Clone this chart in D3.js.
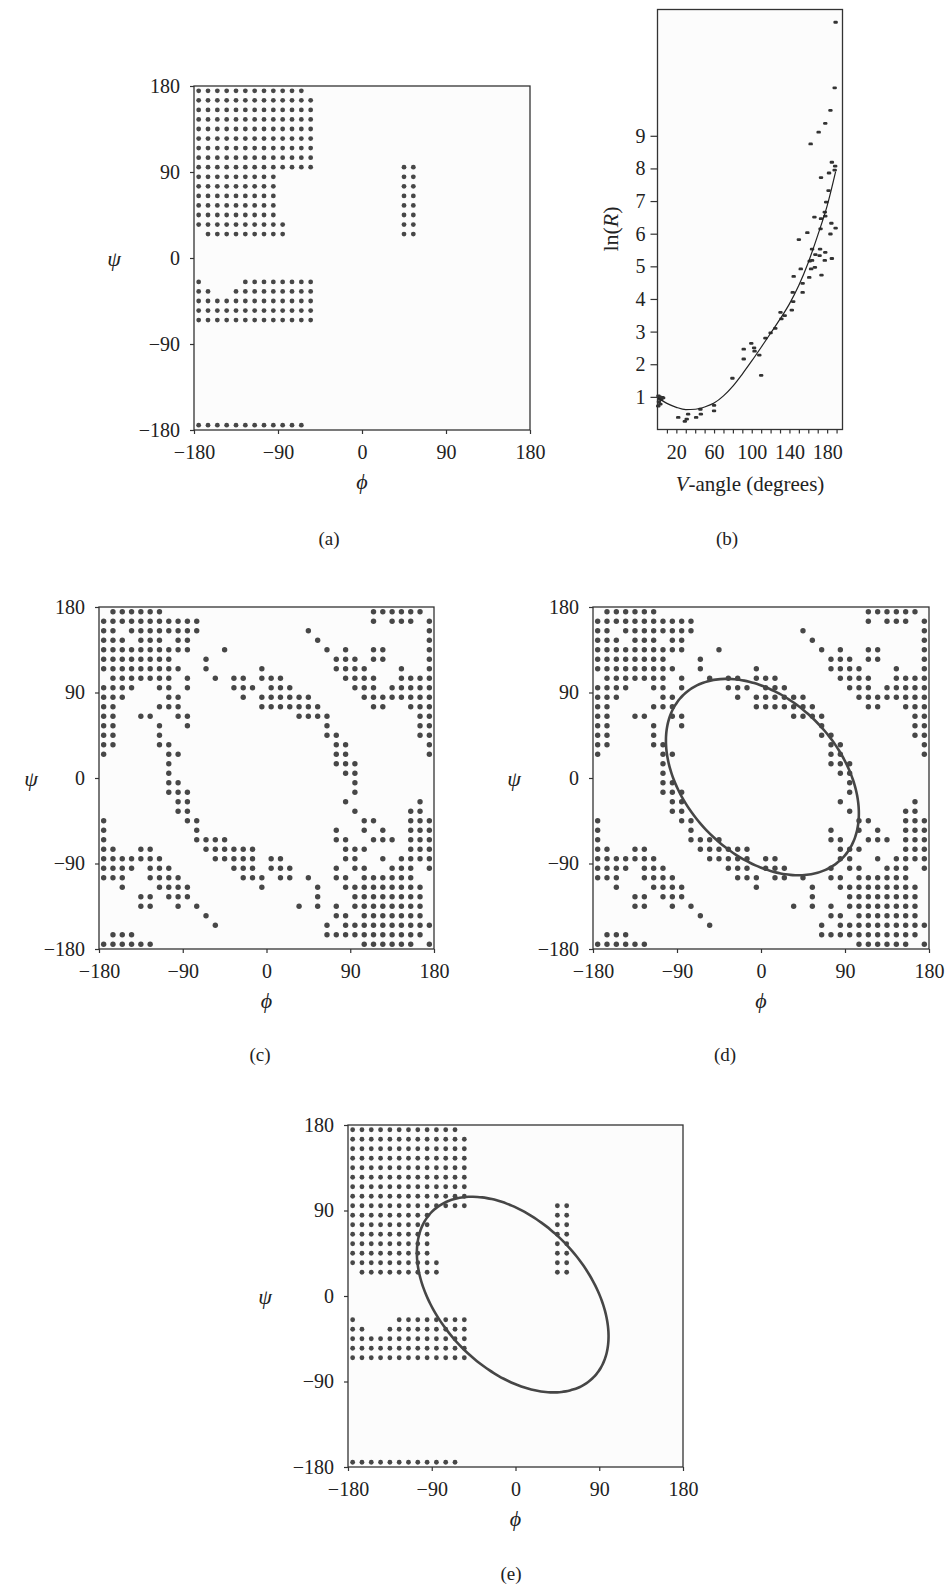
<!DOCTYPE html>
<html>
<head>
<meta charset="utf-8">
<script src="https://cdn.jsdelivr.net/npm/d3@7"></script>
<style>
body { margin: 0; background: #fff; }
svg text { font-family: "Liberation Serif", "Times New Roman", serif; fill: #222; }
</style>
</head>
<body>
<svg id="fig" width="948" height="1587"></svg>
<script>
// Ramachandran grids: one entry per psi row (175 down to -175), listing
// occupied phi columns (column c -> phi = -175 + 10c)
const gridA = [
  "0-11",
  "0-12", "0-12", "0-12", "0-12", "0-12", "0-12", "0-12",
  "0-12,22-23",
  "0-8,22-23", "0-8,22-23", "0-8,22-23", "0-8,22-23", "0-8,22-23",
  "0-9,22-23",
  "1-9,22-23",
  "", "", "", "",
  "0,5-12",
  "0-1,4-12",
  "0-12", "0-12", "0-12",
  "", "", "", "", "", "", "", "", "", "",
  "0-11"
];

const gridC = [
  "1-6,29-34",
  "0-10,29,31-33,35",
  "0-1,3-10,22,35",
  "0-2,4-6,8-9,23,35",
  "0-9,13,24,26,29-30,35",
  "0-7,11,25-27,29-30,35",
  "0-8,11,17,25-28,32,35",
  "1-7,9,12,14-15,17-19,26-29,32-35",
  "0-3,6-7,9,14-16,18-20,27-29,31-35",
  "0-2,7-8,15,17-22,28-35",
  "0-1,6-8,17-23,29-30,33-35",
  "0-1,4-5,8-9,21-24,34-35",
  "0-1,6,9,24,34-35",
  "0-1,6,24-25,34-35",
  "0-1,6-7,25-26,35",
  "0,7-8,25-26,35",
  "7,25-27",
  "7,26-27",
  "7-8,27",
  "7-9,27",
  "8-9,26,34",
  "8-9,27,33-34",
  "0,9-10,28-29,33-35",
  "0,10,25,28,30,33-35",
  "0,10-13,25-26,29-31,33-35",
  "0-1,4-5,11-16,26-28,33-35",
  "0-6,12-16,18-19,26-27,30,32-35",
  "0-3,5-7,14-16,18-20,25,27-28,31-33,35",
  "0-2,5-8,15-17,19-20,22,25-26,28-33",
  "2,6-9,17,23,26-34",
  "4-5,7-9,23,27-34",
  "4-5,8,10,21,23,25,27-34",
  "11,25-26,28-34",
  "12,24,26-35",
  "1-3,24-34",
  "0-5,28-33,35"
];

// fitted ellipses: centre (phi, psi), semi-axes, tilt in degrees
const ellipseD = { cx: 1.5, cy: 1, a: 121, b: 82, tilt: -45 };
const ellipseE = { cx: -3, cy: 1.5, a: 123, b: 78, tilt: -45 };

const angleTicks = [-180, -90, 0, 90, 180];

// panel (b): V-angle vs ln(R)
const vAngle = [1, 2, 4, 1.5, 3, 5, 6, 0.8, 2.5, 22, 29, 31, 32.5, 41, 45.5, 46, 60, 60,
  79.5, 91.5, 91.5, 99.5, 102.5, 103, 108, 110, 114.5, 120, 125, 130.5, 131.5, 135,
  142.5, 144, 143.5, 144.5, 150, 152, 154, 154, 159, 161, 161.5, 163, 164, 164, 162.5,
  166.5, 167, 167.5, 171, 172, 172.5, 173, 173.5, 173.5, 174, 177.5, 178, 178, 177.5,
  178, 179, 181.5, 182, 183.5, 183.5, 184.5, 185, 185, 188.5, 188, 189, 189, 188];
const lnR = [1.03, 0.95, 0.92, 0.85, 0.78, 0.98, 0.97, 0.72, 1.0, 0.37, 0.25, 0.32, 0.47, 0.37, 0.62, 0.47, 0.74, 0.57,
  1.57, 2.16, 2.46, 2.64, 2.5, 2.4, 2.28, 1.66, 2.8, 2.96, 3.1, 3.59, 3.39, 3.49,
  3.66, 3.92, 4.2, 4.69, 5.82, 4.92, 4.48, 4.2, 6.03, 4.66, 5.16, 4.92, 5.53, 5.18, 8.75,
  6.51, 4.97, 5.36, 9.11, 5.33, 5.53, 6.15, 6.46, 7.72, 4.73, 6.66, 6.54, 5.43, 5.18,
  9.38, 6.97, 7.32, 7.86, 9.78, 5.99, 6.32, 8.19, 5.24, 8.07, 10.47, 12.48, 6.17, 7.95];
const fitAngle = [0, 10, 20, 30, 40, 50, 60, 70, 80, 90, 100, 110, 120, 130, 140, 150, 160, 170, 180, 189];
const fitLnR = [0.97, 0.8, 0.68, 0.61, 0.62, 0.69, 0.81, 1.03, 1.33, 1.7, 2.1, 2.52, 2.95, 3.38, 3.85, 4.42, 5.12, 5.95, 6.85, 7.9];
const vTicks = [10, 20, 30, 40, 50, 60, 70, 80, 90, 100, 110, 120, 130, 140, 150, 160, 170, 180, 190];
const vTickLabels = [20, 60, 100, 140, 180];
const lnTicks = [1, 2, 3, 4, 5, 6, 7, 8, 9];

const svg = d3.select("#fig");
const ink = "#333";

function parseGrid(rows) {
  let pts = [];
  rows.forEach((row, r) => {
    if (!row) return;
    row.split(",").forEach(part => {
      let ends = part.split("-").map(Number);
      let lo = ends[0], hi = ends.length > 1 ? ends[1] : ends[0];
      for (let c = lo; c <= hi; c++) pts.push({ phi: -175 + 10 * c, psi: 175 - 10 * r });
    });
  });
  return pts;
}

function styleAxis(g, size) {
  g.select(".domain").remove();
  g.selectAll(".tick line").attr("stroke", ink).attr("stroke-width", 1.2);
  g.selectAll(".tick text")
    .attr("font-family", "Liberation Serif, Times New Roman, serif")
    .attr("font-size", size).attr("fill", "#222");
  g.attr("font-family", null).attr("font-size", null);
}

function drawRama(box, grid, ell, dotR, label) {
  let g = svg.append("g");
  let x = d3.scaleLinear().domain([-180, 180]).range([box.x, box.x + box.w]);
  let y = d3.scaleLinear().domain([-180, 180]).range([box.y + box.h, box.y]);

  g.append("rect")
    .attr("x", box.x).attr("y", box.y).attr("width", box.w).attr("height", box.h)
    .attr("fill", "#fcfcfc");

  g.selectAll(".dot")
    .data(parseGrid(grid))
    .enter()
    .append("circle")
    .attr("cx", d => x(d.phi))
    .attr("cy", d => y(d.psi))
    .attr("r", dotR)
    .attr("fill", "#474747");

  if (ell) {
    let th = ell.tilt * Math.PI / 180;
    let ts = d3.range(0, 360, 3).map(t => t * Math.PI / 180);
    let pts = ts.map(t => [
      ell.cx + ell.a * Math.cos(th) * Math.cos(t) - ell.b * Math.sin(th) * Math.sin(t),
      ell.cy + ell.a * Math.sin(th) * Math.cos(t) + ell.b * Math.cos(th) * Math.sin(t)
    ]);
    g.append("path")
      .attr("d", d3.line().x(p => x(p[0])).y(p => y(p[1])).curve(d3.curveCardinalClosed)(pts))
      .attr("fill", "none")
      .attr("stroke", "#464646")
      .attr("stroke-width", 2.6);
  }

  g.append("rect")
    .attr("x", box.x).attr("y", box.y).attr("width", box.w).attr("height", box.h)
    .attr("fill", "none").attr("stroke", ink).attr("stroke-width", 1.3);

  let ax = g.append("g").attr("transform", `translate(0,${box.y + box.h})`)
    .call(d3.axisBottom(x).tickValues(angleTicks).tickSize(4).tickPadding(11));
  styleAxis(ax, 20);
  let ay = g.append("g").attr("transform", `translate(${box.x},0)`)
    .call(d3.axisLeft(y).tickValues(angleTicks).tickSize(4).tickPadding(10));
  styleAxis(ay, 20);

  g.append("text")
    .attr("x", box.psiX).attr("y", y(0))
    .attr("text-anchor", "middle").attr("dominant-baseline", "central")
    .attr("font-style", "italic").attr("font-size", 22)
    .text("ψ");
  g.append("text")
    .attr("x", x(0)).attr("y", box.y + box.h + 59)
    .attr("text-anchor", "middle")
    .attr("font-style", "italic").attr("font-size", 22)
    .text("ϕ");
  g.append("text")
    .attr("x", label[1]).attr("y", label[2])
    .attr("text-anchor", "middle").attr("dominant-baseline", "central")
    .attr("font-size", 19)
    .text(label[0]);
}

drawRama({ x: 194, y: 86, w: 336, h: 344, psiX: 114 }, gridA, null, 2.4, ["(a)", 329, 538]);
drawRama({ x: 99, y: 607, w: 335, h: 342, psiX: 31 }, gridC, null, 2.7, ["(c)", 260, 1054]);
drawRama({ x: 593, y: 607, w: 336, h: 342, psiX: 514 }, gridC, ellipseD, 2.7, ["(d)", 725, 1054]);
drawRama({ x: 348, y: 1125, w: 335, h: 342, psiX: 265 }, gridA, ellipseE, 2.4, ["(e)", 511, 1573]);

// panel (b)
{
  let box = { x: 657.5, y: 9.5, w: 185, h: 420 };
  let g = svg.append("g");
  let x = d3.scaleLinear().domain([0, 196.3]).range([box.x, box.x + box.w]);
  let y = d3.scaleLinear().domain([0, 12.87]).range([box.y + box.h, box.y]);

  g.append("rect")
    .attr("x", box.x).attr("y", box.y).attr("width", box.w).attr("height", box.h)
    .attr("fill", "#fcfcfc");

  let pts = vAngle.map((v, i) => ({ v: v, r: lnR[i] }));
  g.selectAll(".pt")
    .data(pts)
    .enter()
    .append("rect")
    .attr("x", d => x(d.v) - 2.2)
    .attr("y", d => y(d.r) - 1.4)
    .attr("width", 4.4)
    .attr("height", 2.8)
    .attr("rx", 1.2)
    .attr("fill", "#333");

  let fit = fitAngle.map((v, i) => [v, fitLnR[i]]);
  g.append("path")
    .attr("d", d3.line().x(p => x(p[0])).y(p => y(p[1])).curve(d3.curveMonotoneX)(fit))
    .attr("fill", "none").attr("stroke", "#222").attr("stroke-width", 1.2);

  g.append("rect")
    .attr("x", box.x).attr("y", box.y).attr("width", box.w).attr("height", box.h)
    .attr("fill", "none").attr("stroke", ink).attr("stroke-width", 1.3);

  let ax = g.append("g").attr("transform", `translate(0,${box.y + box.h})`)
    .call(d3.axisBottom(x).tickValues(vTicks).tickSize(4).tickPadding(11)
      .tickFormat(d => vTickLabels.includes(d) ? d : ""));
  styleAxis(ax, 20);
  let ay = g.append("g").attr("transform", `translate(${box.x},0)`)
    .call(d3.axisLeft(y).tickValues(lnTicks).tickSize(7).tickPadding(5));
  styleAxis(ay, 20);

  let yl = g.append("text")
    .attr("transform", "translate(610,229) rotate(-90)")
    .attr("text-anchor", "middle").attr("dominant-baseline", "central")
    .attr("font-size", 22);
  yl.append("tspan").text("ln(");
  yl.append("tspan").attr("font-style", "italic").text("R");
  yl.append("tspan").text(")");

  let xl = g.append("text")
    .attr("x", 750).attr("y", 491)
    .attr("text-anchor", "middle")
    .attr("font-size", 21);
  xl.append("tspan").attr("font-style", "italic").text("V");
  xl.append("tspan").text("-angle (degrees)");

  g.append("text")
    .attr("x", 727).attr("y", 538)
    .attr("text-anchor", "middle").attr("dominant-baseline", "central")
    .attr("font-size", 19)
    .text("(b)");
}
</script>
</body>
</html>
